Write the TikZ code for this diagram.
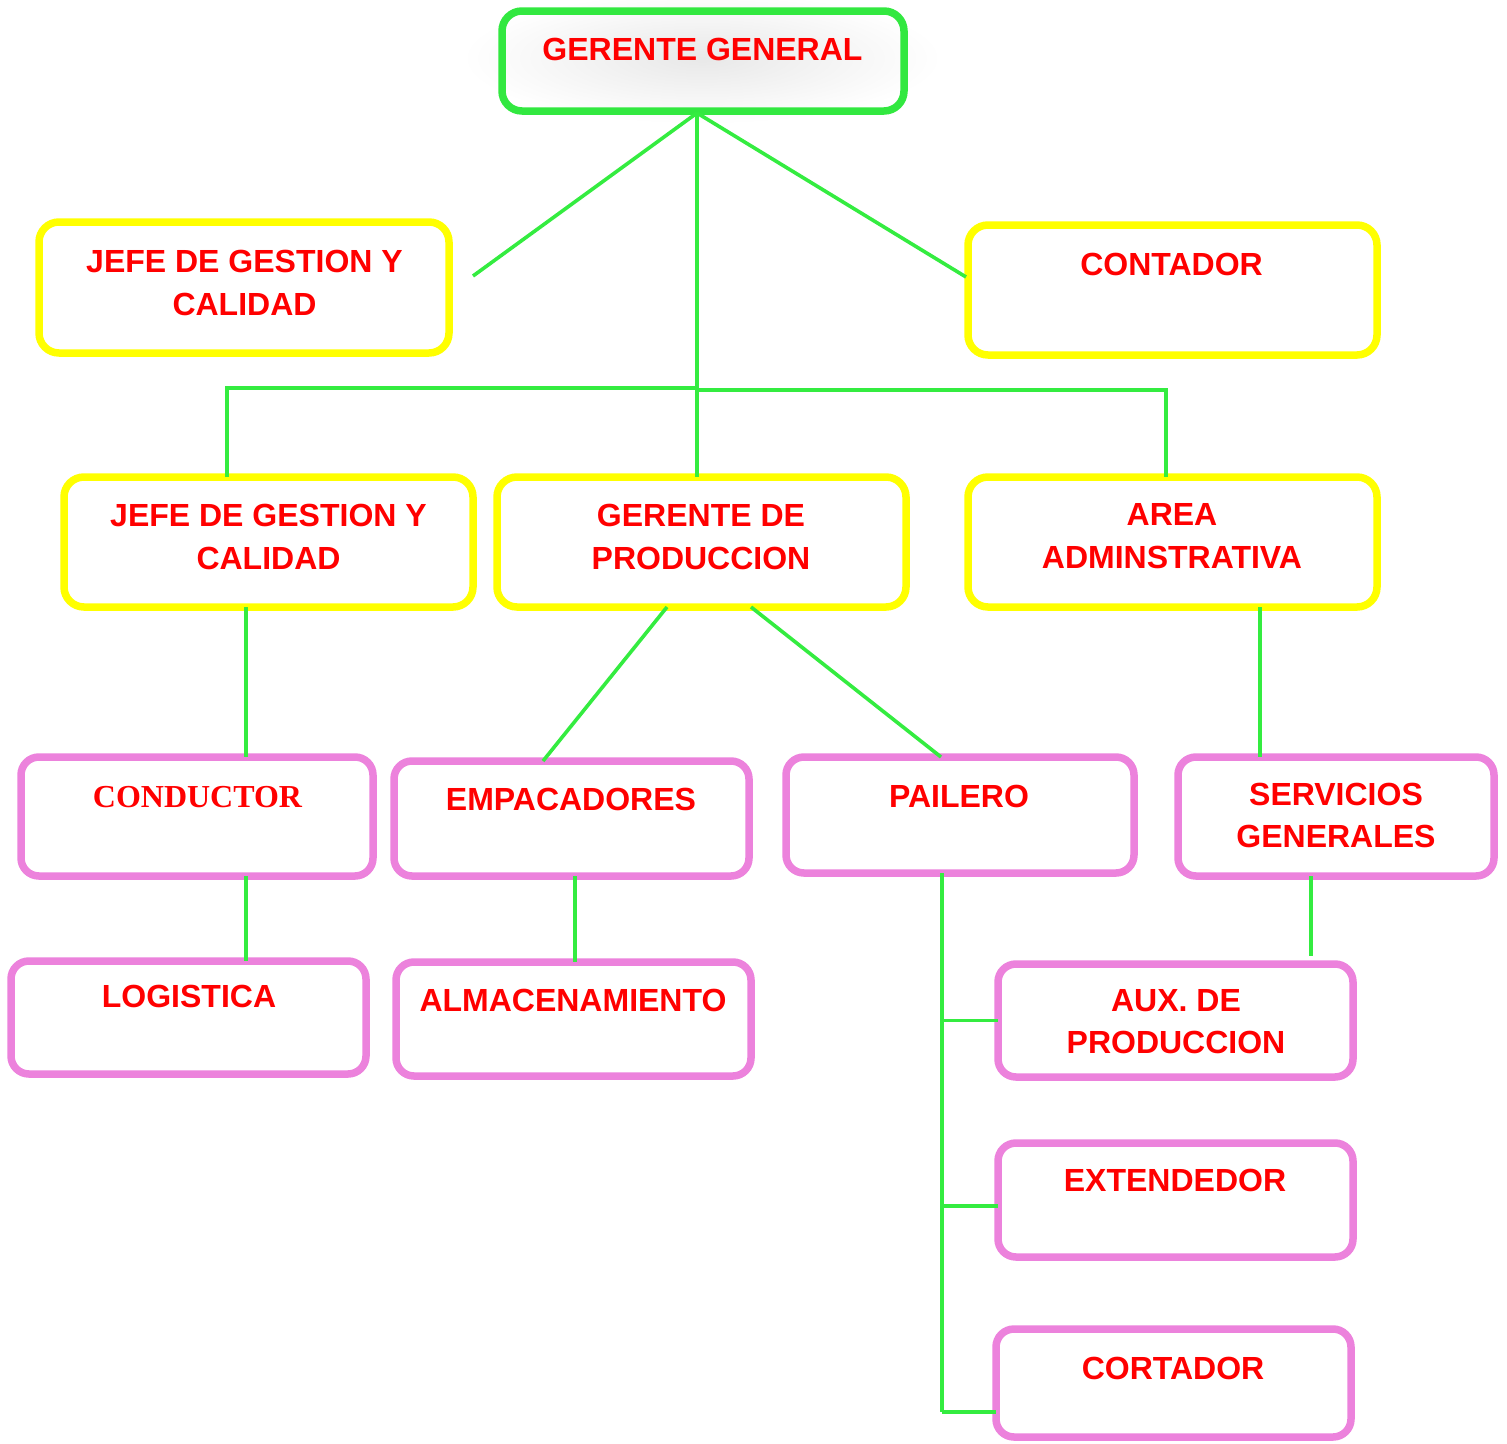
\documentclass[tikz,border=0pt]{standalone}
\usepackage{fontspec}
\setmainfont{Liberation Sans}
\newfontfamily\serifb{Liberation Serif}
\usetikzlibrary{calc}
\definecolor{lgreen}{RGB}{52,236,64}
\definecolor{bgreen}{RGB}{50,232,64}
\definecolor{yel}{RGB}{255,255,0}
\definecolor{pnk}{RGB}{236,130,220}
\definecolor{txt}{RGB}{255,0,0}
\begin{document}
\begin{tikzpicture}[x=1pt,y=-1pt,
  boxbase/.style={rectangle,rounded corners=20pt,line width=7.5pt,inner sep=0pt,outer sep=0pt},
  gbox/.style={boxbase,draw=bgreen},
  ybox/.style={boxbase,draw=yel},
  pbox/.style={boxbase,draw=pnk,rounded corners=18pt},
  lbl/.style={anchor=base,inner sep=0pt,text=txt,font=\fontsize{32}{43}\selectfont\bfseries},
  slbl/.style={lbl,font=\fontsize{32}{43}\selectfont\serifb\bfseries},
  conn/.style={draw=lgreen,line width=3.6pt}]
\useasboundingbox (0,0) rectangle (1507,1443);
\fill[white] (0,0) rectangle (1507,1443);
% glow behind top box
\shade[inner color=black!9,outer color=white] (702,58) ellipse [x radius=240pt,y radius=66pt];
% boxes
\node[gbox,minimum width=402pt,minimum height=100pt] (gg) at (703,61) {};
\node[ybox,minimum width=410pt,minimum height=131pt] (jefe1) at (244,287.5) {};
\node[ybox,minimum width=409pt,minimum height=130pt] (contador) at (1172.5,290) {};
\node[ybox,minimum width=409pt,minimum height=130pt] (jefe2) at (268.5,542) {};
\node[ybox,minimum width=409pt,minimum height=130pt] (gdp) at (701.5,542) {};
\node[ybox,minimum width=409pt,minimum height=130pt] (area) at (1172.5,542) {};
\node[pbox,minimum width=352pt,minimum height=119pt] (conductor) at (197,816.5) {};
\node[pbox,minimum width=355pt,minimum height=115pt] (empac) at (571.5,818.5) {};
\node[pbox,minimum width=348pt,minimum height=116pt] (pailero) at (960,815) {};
\node[pbox,minimum width=316pt,minimum height=119pt] (serv) at (1336,816.5) {};
\node[pbox,minimum width=355pt,minimum height=113pt] (logistica) at (188.5,1017.5) {};
\node[pbox,minimum width=355pt,minimum height=114pt] (almac) at (573.5,1019) {};
\node[pbox,minimum width=355pt,minimum height=113pt] (aux) at (1175.5,1020.5) {};
\node[pbox,minimum width=355pt,minimum height=114pt] (extend) at (1175.5,1200) {};
\node[pbox,minimum width=355pt,minimum height=108pt] (cortador) at (1173.5,1383) {};
% texts
\node[lbl] (t-gg) at (702.5,60) {GERENTE GENERAL};
\node[lbl] (t-jefe1a) at (244.5,272) {JEFE DE GESTION Y};
\node[lbl] (t-jefe1b) at (244.5,315) {CALIDAD};
\node[lbl] (t-contador) at (1171.5,275) {CONTADOR};
\node[lbl] (t-jefe2a) at (268.5,526) {JEFE DE GESTION Y};
\node[lbl] (t-jefe2b) at (268.5,569) {CALIDAD};
\node[lbl] (t-gdpa) at (701,526) {GERENTE DE};
\node[lbl] (t-gdpb) at (701,569) {PRODUCCION};
\node[lbl] (t-areaa) at (1172,525) {AREA};
\node[lbl] (t-areab) at (1172,568) {ADMINSTRATIVA};
\node[slbl] (t-conductor) at (197.5,807) {CONDUCTOR};
\node[lbl] (t-empac) at (571,810) {EMPACADORES};
\node[lbl] (t-pailero) at (959,807) {PAILERO};
\node[lbl] (t-serva) at (1336,805) {SERVICIOS};
\node[lbl] (t-servb) at (1336,847) {GENERALES};
\node[lbl] (t-logistica) at (189,1007) {LOGISTICA};
\node[lbl] (t-almac) at (573,1011) {ALMACENAMIENTO};
\node[lbl] (t-auxa) at (1176,1011) {AUX. DE};
\node[lbl] (t-auxb) at (1176,1053) {PRODUCCION};
\node[lbl] (t-extend) at (1175,1191) {EXTENDEDOR};
\node[lbl] (t-cortador) at (1173,1379) {CORTADOR};
% connector helper coordinates
\coordinate (apex) at (697,113);
\coordinate (j1end) at (473,276);
\coordinate (hl) at (227,388);
\coordinate (hr) at (1166,390);
\coordinate (cx1) at (246,0);
\coordinate (cx2) at (575,0);
\coordinate (cx3) at (1260,0);
\coordinate (cx4) at (1311,0);
\coordinate (bus) at (942,0);
\coordinate (busend) at (942,1412);
% connectors
\draw[conn] (apex) -- (j1end);
\draw[conn] (apex) -- ($(contador.west)+(-2,-13)$);
\draw[conn] (apex) -- (apex |- gdp.north);
\draw[conn] (jefe2.north -| hl) -- (hl) -- (apex |- hl);
\draw[conn] (apex |- hr) -- (hr) -- (hr |- area.north);
\draw[conn] (jefe2.south -| cx1) -- (conductor.north -| cx1);
\draw[conn] (conductor.south -| cx1) -- (logistica.north -| cx1);
\draw[conn] ($(gdp.south)+(-34.5,0)$) -- ($(empac.north)+(-28.5,0)$);
\draw[conn] ($(gdp.south)+(49.5,0)$) -- ($(pailero.north)+(-19,0)$);
\draw[conn] (empac.south -| cx2) -- (almac.north -| cx2);
\draw[conn] (area.south -| cx3) -- (serv.north -| cx3);
\draw[conn] (serv.south -| cx4) -- ($(aux.north -| cx4)+(0,-8)$);
\draw[conn] (pailero.south -| bus) -- (busend);
\draw[conn] (aux.west -| bus) -- (aux.west);
\draw[conn] ($(extend.west -| bus)+(0,6)$) -- ($(extend.west)+(0,6)$);
\draw[conn] (busend) -- (busend -| cortador.west);
\end{tikzpicture}
\end{document}
